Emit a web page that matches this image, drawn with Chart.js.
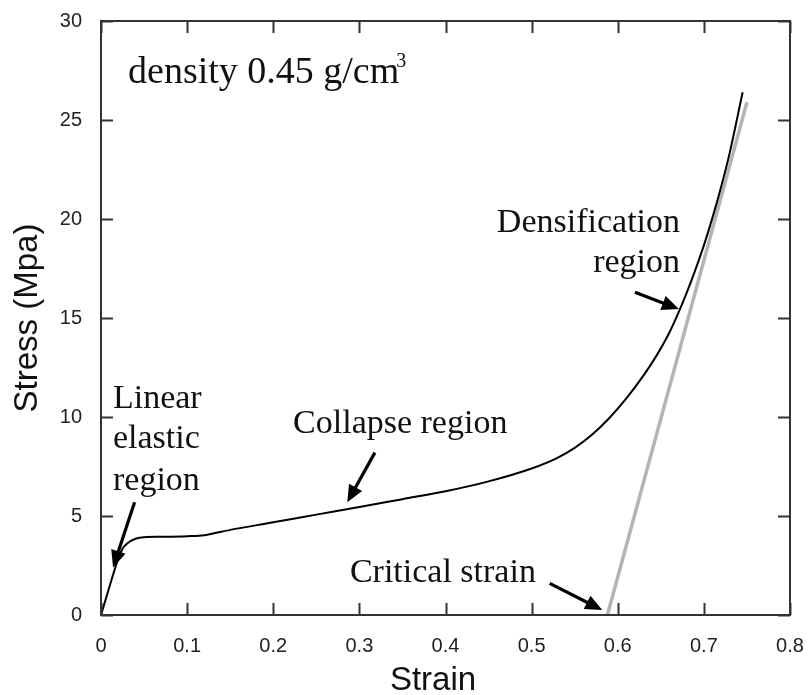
<!DOCTYPE html>
<html>
<head>
<meta charset="utf-8">
<script src="https://cdn.jsdelivr.net/npm/chart.js@4"></script>
<style>
  html, body { margin: 0; padding: 0; background: #fff; }
</style>
</head>
<body>
<canvas id="chart" width="808" height="695"></canvas>
<script>
// Measured curve (strain vs stress)
const strain = [0, 0.01, 0.02, 0.025, 0.03, 0.04, 0.05, 0.07, 0.1, 0.12, 0.15, 0.2, 0.25, 0.3, 0.35, 0.4, 0.45, 0.5, 0.53, 0.55, 0.57, 0.59, 0.61, 0.63, 0.645, 0.66, 0.67, 0.68, 0.69, 0.7, 0.71, 0.72, 0.73, 0.745];
const stress = [0, 1.45, 2.85, 3.35, 3.6, 3.85, 3.93, 3.95, 3.98, 4.03, 4.3, 4.68, 5.07, 5.45, 5.85, 6.25, 6.75, 7.4, 7.94, 8.44, 9.1, 9.94, 10.94, 12.1, 13.1, 14.27, 15.22, 16.27, 17.42, 18.67, 20.07, 21.62, 23.34, 26.4];

// Tangent line giving the critical strain
const tangentStrain = [0.588, 0.75];
const tangentStress = [0, 25.9];

// Axis ticks
const xTicks = [0, 0.1, 0.2, 0.3, 0.4, 0.5, 0.6, 0.7, 0.8];
const yTicks = [0, 5, 10, 15, 20, 25, 30];

const serif = '"Liberation Serif", "Times New Roman", serif';
const sans = '"Liberation Sans", Arial, sans-serif';

function toPoints(xs, ys) {
  return xs.map((v, i) => ({ x: v, y: ys[i] }));
}

function arrow(ctx, x1, y1, x2, y2) {
  const ang = Math.atan2(y2 - y1, x2 - x1);
  const hl = 17, hw = 7.5;
  const bx = x2 - hl * Math.cos(ang), by = y2 - hl * Math.sin(ang);
  ctx.lineWidth = 3.2;
  ctx.beginPath();
  ctx.moveTo(x1, y1);
  ctx.lineTo(bx + 2 * Math.cos(ang), by + 2 * Math.sin(ang));
  ctx.stroke();
  ctx.beginPath();
  ctx.moveTo(x2, y2);
  ctx.lineTo(bx + hw * Math.sin(ang), by - hw * Math.cos(ang));
  ctx.lineTo(bx - hw * Math.sin(ang), by + hw * Math.cos(ang));
  ctx.closePath();
  ctx.fill();
}

// box, inward ticks, titles and the annotations
const decorations = {
  id: 'decorations',
  afterDraw(chart) {
    const { ctx, chartArea: a, scales: { x, y } } = chart;
    ctx.save();
    ctx.strokeStyle = '#333';
    ctx.lineWidth = 2;
    ctx.strokeRect(a.left, a.top, a.right - a.left, a.bottom - a.top);
    ctx.beginPath();
    xTicks.forEach(t => {
      const px = Math.round(x.getPixelForValue(t)) + 0.5;
      ctx.moveTo(px, a.bottom); ctx.lineTo(px, a.bottom - 12);
      ctx.moveTo(px, a.top); ctx.lineTo(px, a.top + 12);
    });
    yTicks.forEach(t => {
      const py = Math.round(y.getPixelForValue(t)) + 0.5;
      ctx.moveTo(a.left, py); ctx.lineTo(a.left + 12, py);
      ctx.moveTo(a.right, py); ctx.lineTo(a.right - 12, py);
    });
    ctx.stroke();

    // axis titles
    ctx.fillStyle = '#111';
    ctx.font = '33px ' + sans;
    ctx.textAlign = 'center';
    ctx.textBaseline = 'alphabetic';
    ctx.fillText('Strain', 433, 690);
    ctx.save();
    ctx.translate(37, (a.top + a.bottom) / 2);
    ctx.rotate(-Math.PI / 2);
    ctx.fillText('Stress (Mpa)', 0, 0);
    ctx.restore();

    // annotations
    const X = v => x.getPixelForValue(v);
    const Y = v => y.getPixelForValue(v);
    ctx.textAlign = 'left';
    ctx.font = '38px ' + serif;
    const base = 'density 0.45 g/cm';
    ctx.fillText(base, X(0.0314), Y(26.87));
    const w = ctx.measureText(base).width;
    ctx.font = '20px ' + serif;
    ctx.fillText('3', X(0.0314) + w - 3, Y(26.87) - 16);

    ctx.font = '34px ' + serif;
    ctx.fillText('Linear', X(0.0139), Y(10.45));
    ctx.fillText('elastic', X(0.0139), Y(8.43));
    ctx.fillText('region', X(0.0139), Y(6.31));
    ctx.fillText('Collapse region', X(0.223), Y(9.19));
    ctx.fillText('Critical strain', X(0.289), Y(1.67));
    ctx.textAlign = 'right';
    ctx.fillText('Densification', X(0.6723), Y(19.34));
    ctx.fillText('region', X(0.6723), Y(17.32));

    ctx.strokeStyle = '#000';
    ctx.fillStyle = '#000';
    arrow(ctx, X(0.039), Y(5.7), X(0.014), Y(2.4));
    arrow(ctx, X(0.318), Y(8.2), X(0.286), Y(5.7));
    arrow(ctx, X(0.62), Y(16.3), X(0.671), Y(15.45));
    arrow(ctx, X(0.521), Y(1.6), X(0.582), Y(0.25));
    ctx.restore();
  }
};

// tick marks are drawn by the plugin, the grid only sets the label offset
const hiddenGrid = {
  display: true,
  color: 'rgba(0,0,0,0)',
  drawOnChartArea: false,
  drawTicks: true,
  tickLength: 19
};

const chartConfig = {
  type: 'scatter',
  data: {
    datasets: [{
      label: 'Stress-strain',
      data: toPoints(strain, stress),
      showLine: true,
      borderColor: '#000',
      borderWidth: 2,
      pointRadius: 0,
      cubicInterpolationMode: 'monotone',
      order: 1
    }, {
      label: 'Tangent',
      data: toPoints(tangentStrain, tangentStress),
      showLine: true,
      borderColor: '#b4b4b4',
      borderWidth: 3.5,
      pointRadius: 0,
      order: 2
    }]
  },
  options: {
    responsive: false,
    animation: false,
    layout: { padding: { top: 21, right: 18, left: 0, bottom: 0 } },
    plugins: {
      legend: { display: false },
      tooltip: { enabled: false }
    },
    scales: {
      x: {
        type: 'linear',
        min: 0,
        max: 0.8,
        afterFit(scale) { scale.height = 80; },
        afterBuildTicks(scale) { scale.ticks = xTicks.map(v => ({ value: v })); },
        grid: hiddenGrid,
        border: { display: false },
        ticks: {
          padding: 0,
          color: '#222',
          font: { family: sans, size: 20 },
          callback: v => (v === 0 ? '0' : v.toFixed(1))
        }
      },
      y: {
        type: 'linear',
        min: 0,
        max: 30,
        afterFit(scale) { scale.width = 101; },
        afterBuildTicks(scale) { scale.ticks = yTicks.map(v => ({ value: v })); },
        grid: hiddenGrid,
        border: { display: false },
        ticks: {
          padding: 0,
          color: '#222',
          font: { family: sans, size: 20 }
        }
      }
    }
  },
  plugins: [decorations]
};

new Chart(document.getElementById('chart'), chartConfig);
</script>
</body>
</html>
